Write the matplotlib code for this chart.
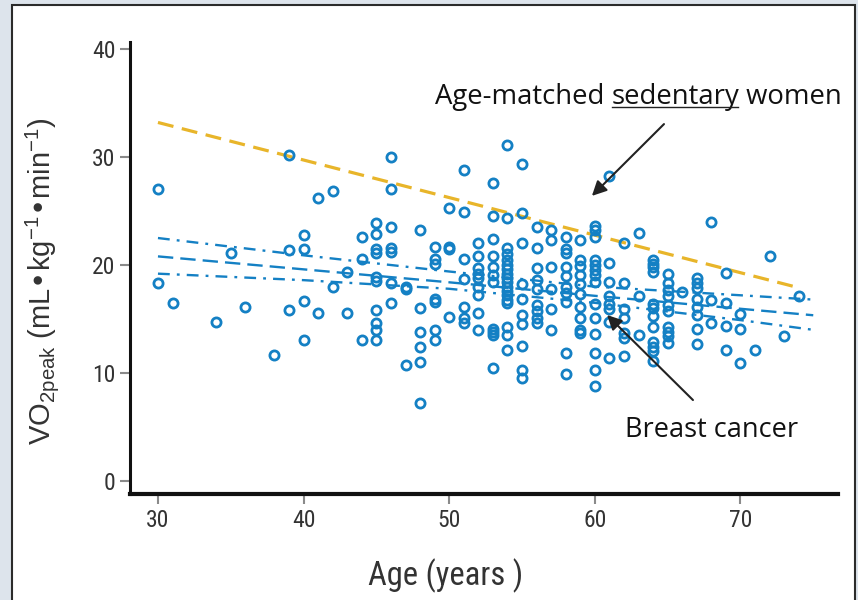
import numpy as np
import matplotlib
matplotlib.use("Agg")
import matplotlib.pyplot as plt
from matplotlib.patches import Rectangle
from matplotlib.lines import Line2D
from matplotlib.transforms import IdentityTransform
from matplotlib import font_manager

#----------------------------
# Data
#----------------------------

# age -> VO2peak values of the breast cancer patients
points_by_age = {
    30: [27.0, 18.3],
    31: [16.5],
    34: [14.75],
    35: [21.1],
    36: [16.1],
    38: [11.7],
    39: [30.2, 21.4, 15.8],
    40: [22.8, 21.5, 16.7, 13.05],
    41: [26.2, 15.6],
    42: [26.9, 18.0],
    43: [19.4, 15.6],
    44: [22.6, 20.6, 13.05],
    45: [23.9, 22.9, 21.5, 21.1, 18.9, 18.5, 15.8, 14.65, 14.0, 13.1],
    46: [30.0, 27.0, 23.5, 21.6, 21.2, 18.3, 16.5],
    47: [18.0, 17.8, 10.7],
    48: [23.2, 16.0, 13.8, 12.4, 11.0, 7.25],
    49: [21.7, 20.6, 20.1, 16.9, 16.6, 14.0, 13.05],
    50: [25.25, 21.7, 21.45, 15.2],
    51: [28.8, 24.9, 20.6, 18.7, 16.1, 15.05, 14.65],
    52: [22.0, 20.8, 19.7, 19.2, 18.8, 18.0, 17.2, 15.6, 14.0],
    53: [27.6, 24.5, 22.4, 20.8, 19.8, 19.1, 18.4, 14.1, 13.8, 13.5, 10.5],
    54: [31.1, 24.4, 21.6, 21.0, 20.5, 20.0, 19.6, 19.2, 18.8, 18.4, 18.0,
         17.6, 17.2, 16.8, 16.5, 14.3, 13.5, 12.1],
    55: [29.4, 24.8, 22.0, 18.2, 16.9, 15.4, 14.5, 12.5, 10.3, 9.5],
    56: [23.5, 21.6, 19.7, 18.6, 17.75, 16.3, 15.7, 15.05, 14.65],
    57: [23.2, 22.3, 19.8, 17.8, 15.9, 14.0],
    58: [22.6, 21.5, 21.1, 19.8, 19.0, 18.0, 17.4, 16.6, 11.9, 9.9],
    59: [22.3, 20.5, 19.9, 19.1, 18.2, 17.3, 16.1, 15.05, 14.0, 13.7],
    60: [23.6, 23.2, 22.6, 20.5, 20.0, 19.5, 19.1, 18.45, 16.4, 15.05, 13.6,
         11.9, 10.3, 8.8],
    61: [28.2, 20.15, 18.4, 17.1, 16.4, 15.9, 14.75, 11.35],
    62: [22.0, 18.3, 15.9, 15.05, 13.7, 13.2, 11.6],
    63: [23.0, 17.1, 13.5],
    64: [20.5, 20.1, 19.8, 19.4, 16.4, 16.0, 15.3, 14.3, 12.9, 12.4, 12.0, 11.1],
    65: [19.2, 18.3, 17.7, 17.1, 16.3, 15.7, 14.3, 13.8, 13.4, 12.8],
    66: [17.5],
    67: [18.8, 18.3, 17.9, 16.9, 16.1, 15.4, 14.1, 12.7],
    68: [24.0, 16.8, 14.6],
    69: [19.3, 16.45, 14.35, 12.1],
    70: [15.5, 14.1, 10.95],
    71: [12.1],
    72: [20.8],
    73: [13.4],
    74: [17.1],
}
ages = [a for a, vals in points_by_age.items() for _ in vals]
vo2 = [v for vals in points_by_age.values() for v in vals]

# sedentary women reference line
sed_age = [30, 74]
sed_vo2 = [33.2, 17.9]

# breast cancer regression line and its confidence limits
fit_age = [30, 40, 50, 60, 70, 75]
fit_mid = [20.8, 19.6, 18.4, 17.15, 15.95, 15.35]
fit_upper = [22.5, 20.9, 19.4, 18.0, 17.2, 16.8]
fit_lower = [19.2, 18.6, 17.8, 16.5, 14.9, 14.0]

x_ticks = [30, 40, 50, 60, 70]
y_ticks = [0, 10, 20, 30, 40]

blue = '#1480c4'
gold = '#e8b52a'
calib = ['Open Sans', 'DejaVu Sans']

# condensed face for ticks / x label if the system has one
names = {f.name for f in font_manager.fontManager.ttflist}
narrow_name = None
for cand in ['Liberation Sans Narrow', 'DejaVu Sans Condensed', 'Roboto Condensed']:
    if cand in names:
        narrow_name = cand
        break
condensed = [f for f in font_manager.fontManager.ttflist
             if f.name == 'DejaVu Sans' and f.stretch in ('condensed', 'semi-condensed', 500)]
if narrow_name is not None:
    narrow = dict(family=[narrow_name, 'DejaVu Sans'])
elif condensed:
    narrow = dict(family=['DejaVu Sans'], stretch='condensed')
else:
    narrow = dict(family=['Roboto', 'DejaVu Sans'])

#----------------------------
# Figure
#----------------------------

fig = plt.figure(figsize=(8.58, 6.0), dpi=100)
fig.patch.set_facecolor('#dde4ec')
fig.add_artist(Rectangle((12 / 858, -0.01), 843 / 858, 595 / 600 + 0.01,
                         transform=fig.transFigure, facecolor='white',
                         edgecolor='#2b2b2b', lw=1.5, zorder=0))

ax = fig.add_axes([130 / 858, 106 / 600, 708 / 858, 452 / 600])
ax.set_facecolor('none')

ax.plot(sed_age, sed_vo2, color=gold, lw=2.3, dashes=(5, 2.7), zorder=2)
ax.plot(fit_age, fit_mid, color=blue, lw=1.7, dashes=(6.5, 3), zorder=2)
ax.plot(fit_age, fit_upper, color=blue, lw=1.7, dashes=(5, 3, 1.2, 3), zorder=2)
ax.plot(fit_age, fit_lower, color=blue, lw=1.7, dashes=(5, 3, 1.2, 3), zorder=2)

ax.plot(ages, vo2, 'o', mfc='none', mec=blue, ms=6.6, mew=2.0, zorder=3)

ax.set_xlim(28.08, 76.7)
ax.set_ylim(-1.2, 40.65)
ax.set_xticks(x_ticks)
ax.set_yticks(y_ticks)
ax.tick_params(direction='out', length=7.5, width=1.5, color='#8a8a8a',
               labelsize=17, labelcolor='#333333', pad=3)
for lab in ax.get_xticklabels() + ax.get_yticklabels():
    lab.set(**narrow)

for side in ['top', 'right']:
    ax.spines[side].set_visible(False)
ax.spines['left'].set_linewidth(2.2)
ax.spines['bottom'].set_linewidth(3)
ax.spines['left'].set_color('#111111')
ax.spines['bottom'].set_color('#111111')

ax.set_xlabel('Age (years )', fontsize=23.5, color='#333333', **narrow)
ax.xaxis.set_label_coords(0.446, -0.142)
ax.set_ylabel(r'VO$_{\mathregular{2peak}}$ (mL•kg$^{\mathregular{-1}}$•min$^{\mathregular{-1}}$)',
              family=['Liberation Sans', 'DejaVu Sans'], fontsize=21,
              color='#333333')
ax.yaxis.set_label_coords(-0.098, 0.47)

# annotations
t1 = ax.text(49.0, 35.55, 'Age-matched ', family=calib, fontsize=19.8,
             va='center', ha='left', color='#111111')
t2 = ax.annotate('sedentary', xycoords=t1, xy=(1, 0), va='bottom', ha='left',
                 family=calib, fontsize=19.8, color='#111111')
t3 = ax.annotate(' women', xycoords=t2, xy=(1, 0), va='bottom', ha='left',
                 family=calib, fontsize=19.8, color='#111111')
ax.text(62.07, 4.7, 'Breast cancer', family=calib, fontsize=19.5,
        va='center', ha='left', color='#111111')

arrow = dict(arrowstyle='-|>', color='#222222', lw=1.5, mutation_scale=22,
             shrinkA=0, shrinkB=0)
ax.annotate('', xy=(59.8, 26.4), xytext=(64.75, 33.05), arrowprops=arrow)
ax.annotate('', xy=(60.84, 15.37), xytext=(66.74, 7.5), arrowprops=arrow)

# underline "sedentary"
fig.canvas.draw()
bb = t2.get_window_extent()
y_ul = bb.y0 + 0.14 * bb.height
fig.add_artist(Line2D([bb.x0 + 1, bb.x1 - 1], [y_ul, y_ul], transform=IdentityTransform(),
                      color='#222222', lw=1.0))

fig.savefig('out.png', dpi=100, facecolor=fig.get_facecolor())
